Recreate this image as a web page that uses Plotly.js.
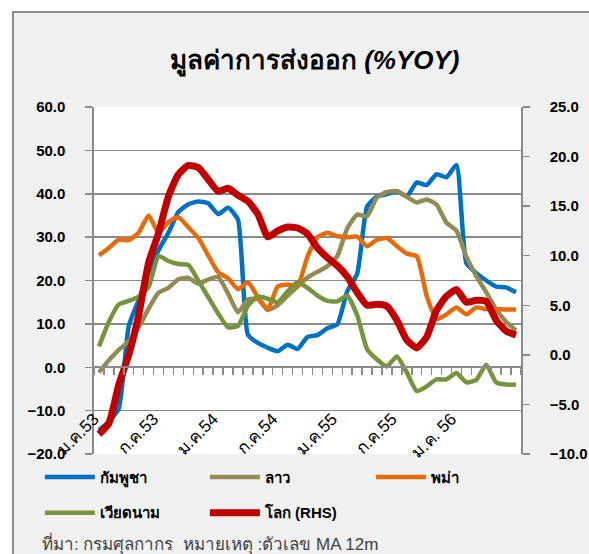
<!DOCTYPE html>
<html>
<head>
<meta charset="utf-8">
<script src="https://cdn.plot.ly/plotly-3.0.1.min.js"></script>
<style>
  html, body { margin: 0; padding: 0; background: #ffffff; width: 589px; height: 554px; overflow: hidden; }
  #frame { position: absolute; left: 12px; top: 11px; width: 577px; height: 543px;
           border-left: 2px solid #8c8c8c; border-top: 2px solid #8c8c8c; background: #f0f0f0; }
  #chart { position: absolute; left: 0; top: 0; width: 575px; height: 541px; }
</style>
</head>
<body>
<div id="frame"><div id="chart"></div></div>
<script>
// Months (Jan 2010 - Jul 2013, Thai Buddhist years 53-56)
const months = [
  "ม.ค.53","ก.พ.53","มี.ค.53","เม.ย.53","พ.ค.53","มิ.ย.53","ก.ค.53","ส.ค.53","ก.ย.53","ต.ค.53","พ.ย.53","ธ.ค.53",
  "ม.ค.54","ก.พ.54","มี.ค.54","เม.ย.54","พ.ค.54","มิ.ย.54","ก.ค.54","ส.ค.54","ก.ย.54","ต.ค.54","พ.ย.54","ธ.ค.54",
  "ม.ค.55","ก.พ.55","มี.ค.55","เม.ย.55","พ.ค.55","มิ.ย.55","ก.ค.55","ส.ค.55","ก.ย.55","ต.ค.55","พ.ย.55","ธ.ค.55",
  "ม.ค.56","ก.พ.56","มี.ค.56","เม.ย.56","พ.ค.56","มิ.ย.56","ก.ค.56"
];
const tickMonths = ["ม.ค.53","ก.ค.53","ม.ค.54","ก.ค.54","ม.ค.55","ก.ค.55","ม.ค.56"];
const tickLabels = ["ม.ค.53","ก.ค.53","ม.ค.54","ก.ค.54","ม.ค.55","ก.ค.55","ม.ค. 56"];

// Series (% YoY, 12-month moving average)
const cambodia = [-14.5,-12.5,-9.5,9.5,15.5,22,27,31,35.8,37.6,38.2,37.8,35.3,36.8,34,7.5,5.6,4.5,3.7,5.2,4.2,7.0,7.4,9.0,9.9,17.5,21.5,37,39.4,39.9,40.6,39.4,42.6,42,44.5,43.8,46.6,24,21.7,20,18.6,18.4,17.3];
const laos     = [-1.2,1.6,4.0,6.0,9.2,13.5,17.2,18.3,20.3,20.6,19.3,20.2,20.8,17,12.7,15.6,15.7,13.2,14.3,16.5,18.6,20.7,22,23.3,25.6,32,35.2,34.8,39.2,40.4,40.6,39.3,38.0,38.7,37.5,33.3,31.5,25.5,21,17.3,13.3,10.5,8.5];
const myanmar  = [25.8,27.5,29.4,29.3,31,35,31,33.5,34.6,32.3,29.8,25.8,21.9,20.5,18.0,19.6,16.2,13.4,18.6,19.1,18.8,25.5,30,31,30.2,30.0,30.1,27.9,29.4,29.8,27.9,26.2,25.6,16.5,11.1,12.2,13.8,12.2,13.8,13.4,13.4,13.3,13.3];
const vietnam  = [4.8,10.5,14.5,15.3,16.3,18.5,25.6,24.5,23.8,23.6,20.0,16.2,12.4,9.2,9.5,14.2,16.3,15.8,15.0,17.5,19.6,18.3,16.5,15.3,15.2,16.5,12,4.2,1.8,0.2,2.5,-1.2,-5.5,-4.4,-2.8,-2.8,-1.3,-3.5,-2.9,0.6,-3.5,-4.0,-4.0];
const world    = [-8.0,-6.9,-3.0,0.0,4.0,9.3,12.3,16.0,18.2,19.1,18.9,17.7,16.5,16.8,16.1,15.5,14.2,11.9,12.5,12.9,12.8,12.2,10.8,9.8,9.0,7.9,6.3,5.0,5.1,4.9,3.5,1.5,0.7,1.8,4.5,5.9,6.6,5.3,5.5,5.4,3.5,2.4,2.0];

const seriesNames = ["กัมพูชา","ลาว","พม่า","เวียดนาม","โลก (RHS)"];
const GRID = "#8a8a8a";
const FONT = "Liberation Sans, Arial, sans-serif";
const PAD = "\u00A0\u00A0\u00A0\u00A0";

function line(y, name, color, width, opts) {
  return Object.assign({
    type: "scatter", mode: "lines", x: months, y: y, name: name,
    line: { color: color, width: width, shape: "spline", smoothing: 0.5 },
    hoverinfo: "skip"
  }, opts || {});
}

const traces = [
  line(cambodia, seriesNames[0], "#0070C0", 4.5, { legend: "legend" }),
  line(laos,     seriesNames[1], "#948A54", 4.5, { legend: "legend2" }),
  line(myanmar,  seriesNames[2], "#E46C0A", 4.5, { legend: "legend3" }),
  line(vietnam,  seriesNames[3], "#77933C", 4.5, { legend: "legend4" }),
  line(world,    seriesNames[4], "#C00000", 7,   { legend: "legend5", yaxis: "y2" })
];

function legendAt(x, y) {
  return {
    orientation: "h", xref: "container", yref: "container", x: x, y: y,
    xanchor: "left", yanchor: "middle", bgcolor: "rgba(0,0,0,0)",
    itemwidth: 50,
    font: { family: FONT, size: 15, color: "#000000", weight: "bold" }
  };
}

const layout = {
  width: 575, height: 541,
  margin: { l: 80, r: 68, t: 94, b: 100, pad: 0 },
  paper_bgcolor: "#f0f0f0", plot_bgcolor: "#ffffff",
  font: { family: FONT, color: "#000000" },
  title: {
    text: "<b>มูลค่าการส่งออก <i>(%YOY)</i></b>",
    xref: "container", yref: "container", x: 0.523, y: 0.913,
    xanchor: "center", yanchor: "middle",
    font: { family: FONT, size: 26, color: "#000000" }
  },
  xaxis: {
    type: "category", range: [-0.5, 42.5],
    tickmode: "array", tickvals: tickMonths, ticktext: tickLabels,
    tickangle: -45, ticks: "", showline: false, showgrid: false, zeroline: false,
    anchor: "free", position: 0.142, ticklabelshift: -5,
    tickfont: { family: FONT, size: 17, color: "#000000" }
  },
  xaxis2: {
    overlaying: "x", type: "linear", range: [-0.5, 42.5],
    tickmode: "linear", tick0: -0.5, dtick: 1,
    ticks: "outside", ticklen: 7, tickwidth: 1.5, tickcolor: GRID,
    showline: true, linecolor: GRID, linewidth: 2,
    showticklabels: false, showgrid: false, zeroline: false,
    anchor: "free", position: 0.25
  },
  yaxis: {
    range: [-20, 60], tickmode: "linear", tick0: -20, dtick: 10, tickformat: ".1f",
    showgrid: true, gridcolor: GRID, gridwidth: 1.5, zeroline: false,
    showline: true, linecolor: GRID, linewidth: 2,
    ticks: "outside", ticklen: 7, tickwidth: 1.5, tickcolor: GRID,
    ticksuffix: PAD,
    tickfont: { family: FONT, size: 15, color: "#000000", weight: "bold" }
  },
  yaxis2: {
    overlaying: "y", side: "right",
    range: [-10, 25], tickmode: "linear", tick0: -10, dtick: 5, tickformat: ".1f",
    showgrid: false, zeroline: false,
    showline: true, linecolor: GRID, linewidth: 2,
    ticks: "outside", ticklen: 7, tickwidth: 1.5, tickcolor: GRID,
    tickprefix: PAD,
    tickfont: { family: FONT, size: 15, color: "#000000", weight: "bold" }
  },
  legend:  legendAt(0.045, 0.142),
  legend2: legendAt(0.332, 0.142),
  legend3: legendAt(0.621, 0.142),
  legend4: legendAt(0.045, 0.076),
  legend5: legendAt(0.332, 0.076),
  annotations: [{
    text: "ที่มา: กรมศุลกากร  หมายเหตุ :ตัวเลข MA 12m",
    xref: "paper", yref: "paper", x: -0.127, y: -0.257,
    xanchor: "left", yanchor: "middle", showarrow: false,
    font: { family: FONT, size: 17, color: "#404040" }
  }]
};

// invisible helper trace so the tick-only category axis is drawn
traces.push({ type: "scatter", mode: "lines", x: [0, 42], y: [null, null], xaxis: "x2", yaxis: "y", showlegend: false, hoverinfo: "skip" });

Plotly.newPlot("chart", traces, layout, { staticPlot: true, displayModeBar: false });
</script>
</body>
</html>
